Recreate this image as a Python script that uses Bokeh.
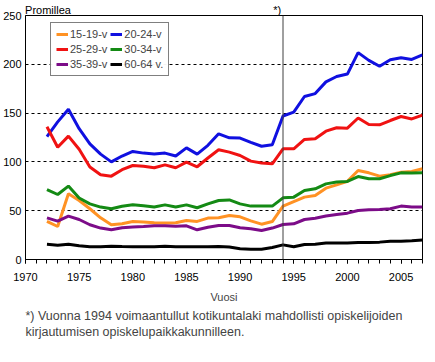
from bokeh.plotting import figure
from bokeh.models import (Span, Legend, LegendItem, SingleIntervalTicker, FixedTicker,
                          Title, Range1d, LinearAxis)
from bokeh.embed import file_html
from bokeh.resources import INLINE

years = list(range(1972, 2008))

s15_19 = [39, 33.8, 67.3, 60.5, 52, 42.7, 35.6, 36.6, 39, 38.3, 37.6, 37.3, 37.6, 40, 39, 42.4,
          42.7, 45, 43.7, 39.6, 36.2, 38.9, 54.7, 59.4, 63.9, 65.6, 73.1, 76.5, 80, 91.2, 88.8,
          85.4, 86.8, 89.5, 90.2, 93]
s20_24 = [126, 141, 154, 134, 118.5, 108, 100, 106, 110.7, 109, 108, 109, 106, 114.4, 108, 117,
          128.8, 124.7, 124.4, 120, 116, 117.5, 147, 151, 167, 170, 182, 187.5, 190, 212, 204,
          198, 204.6, 206.7, 205, 209.7]
s25_29 = [136, 115, 126.4, 113, 94.7, 86.8, 85.4, 92, 96.3, 95.6, 94, 97, 94, 99.8, 95, 104,
          112.4, 110, 106.6, 100.8, 98.8, 98, 113.4, 113.4, 123, 123.7, 131.5, 135, 134.6, 145,
          138.3, 138, 142.4, 146.5, 144, 148]
s30_34 = [71.7, 66.6, 75.2, 63, 57, 53.7, 52, 54.6, 56, 55, 53.7, 56, 53.7, 56, 53, 57,
          60.5, 61, 57, 54.7, 54.7, 54.7, 63.2, 63.9, 70.7, 72.4, 77.5, 79.3, 80, 85, 82.7,
          82.7, 86, 88.8, 88.5, 88.8]
s35_39 = [42.7, 39.3, 44.5, 41, 35.6, 32.2, 30.4, 32.5, 33.2, 33.8, 34.5, 34.5, 34, 34.5, 30.4, 33,
          34.8, 34.8, 32.5, 31.5, 29.7, 32.2, 35.9, 36.6, 41, 42.3, 44.5, 46.1, 47.5, 50.2, 50.9,
          51.2, 52, 54.7, 53.7, 53.7]
s60_64 = [15.7, 14.7, 15.7, 14, 13, 13, 13.7, 13.3, 13, 13, 13, 13.7, 13, 13, 13, 13,
          13.3, 12.7, 11, 10.6, 10.6, 12.3, 15, 13, 15.4, 15.7, 16.8, 16.8, 16.8, 17.5, 17.5,
          17.8, 18.8, 18.8, 19.2, 19.9]

series_names = ["15-19-v", "20-24-v", "25-29-v", "30-34-v", "35-39-v", "60-64 v."]
series_values = [s15_19, s20_24, s25_29, s30_34, s35_39, s60_64]
colors = ["#ff9224", "#1010e0", "#f01212", "#148a14", "#7c0c88", "#000000"]

reform_year = 1994
top_texts = {1972.1: "Promillea", 1993.45: "*)"}

FONT = "Liberation Sans"

p = figure(width=424, height=350, output_backend="svg", toolbar_location=None,
           x_range=Range1d(1970, 2007), y_range=Range1d(0, 250),
           min_border_left=24, min_border_right=2, min_border_top=13, min_border_bottom=91)
p.background_fill_color = "white"
p.border_fill_color = "white"
p.outline_line_color = "black"
p.outline_line_width = 1

renderers = {}
for name, vals, c in zip(series_names, series_values, colors):
    renderers[name] = p.line(years, vals, line_color=c, line_width=3)

# axes
p.xaxis.ticker = SingleIntervalTicker(interval=5, num_minor_ticks=5)
p.xaxis.major_tick_out = 4
p.xaxis.major_tick_in = 0
p.xaxis.minor_tick_out = 4
p.xaxis.minor_tick_in = 0
p.xaxis.major_label_standoff = 9
p.xaxis.axis_label = "Vuosi"
p.xaxis.axis_label_text_font = FONT
p.xaxis.axis_label_text_font_size = "11px"
p.xaxis.axis_label_text_font_style = "normal"
p.xaxis.axis_label_standoff = 7
p.yaxis.ticker = SingleIntervalTicker(interval=50, num_minor_ticks=0)
p.yaxis.major_tick_out = 0
p.yaxis.major_tick_in = 0
p.yaxis.minor_tick_out = 0
p.yaxis.major_label_standoff = 4
for ax in (p.xaxis, p.yaxis):
    ax.axis_line_color = "black"
    ax.major_tick_line_color = "black"
    ax.minor_tick_line_color = "black"
    ax.major_label_text_font = FONT
    ax.major_label_text_font_size = "11px"
    ax.major_label_text_color = "black"

p.xgrid.grid_line_color = None
p.ygrid.grid_line_color = "black"
p.ygrid.grid_line_dash = "3 3"
p.ygrid.grid_line_width = 1

# 1994 marker
p.add_layout(Span(location=reform_year, dimension="height", line_color="#404040", line_width=1))

# top texts ("Promillea" and "*)") as an undecorated axis above the frame
top_axis = LinearAxis(ticker=FixedTicker(ticks=list(top_texts.keys())),
                      major_label_overrides=dict(top_texts))
top_axis.axis_line_color = None
top_axis.major_tick_line_color = None
top_axis.minor_tick_line_color = None
top_axis.major_tick_out = 0
top_axis.major_tick_in = 0
top_axis.major_label_standoff = 0
top_axis.major_label_text_font = FONT
top_axis.major_label_text_font_size = "11px"
top_axis.major_label_text_color = "black"
p.add_layout(top_axis, "above")

# legend (column-major order for 2 columns)
order = ["15-19-v", "25-29-v", "35-39-v", "20-24-v", "30-34-v", "60-64 v."]
legend = Legend(items=[LegendItem(label=n, renderers=[renderers[n]]) for n in order],
                location=(25, 183), orientation="vertical", ncols=2)
legend.border_line_color = "black"
legend.border_line_width = 1
legend.background_fill_color = "white"
legend.label_text_font = FONT
legend.label_text_font_size = "11px"
legend.glyph_width = 12
legend.glyph_height = 12
legend.label_height = 12
legend.label_standoff = 2
legend.spacing = 3
legend.padding = 5
legend.margin = 0
p.add_layout(legend, "center")

# footnote
t1 = Title(text="*) Vuonna 1994 voimaantullut kotikuntalaki mahdollisti opiskelijoiden",
           align="left", offset=0, text_font=FONT, text_font_size="12.5px",
           text_font_style="normal", standoff=3)
t2 = Title(text="kirjautumisen opiskelupaikkakunnilleen.",
           align="left", offset=0, text_font=FONT, text_font_size="12.5px",
           text_font_style="normal", standoff=-3)
p.add_layout(t1, "below")
p.add_layout(t2, "below")

open("out.html", "w").write(file_html(p, INLINE))
